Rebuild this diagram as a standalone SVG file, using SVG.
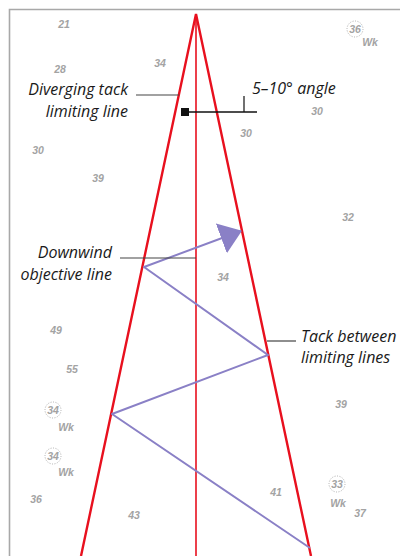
<svg xmlns="http://www.w3.org/2000/svg" width="400" height="556" viewBox="0 0 400 556">
<style>
.num{font-family:"Liberation Sans",Arial,sans-serif;font-style:italic;font-weight:bold;font-size:10.5px;fill:#a3a3a3;text-anchor:middle}
.lbl{font-family:"Open Sans","Noto Sans",sans-serif;font-style:italic;font-size:16px;fill:#1a1a1a}
.circ{fill:none;stroke:#9a9a9a;stroke-width:0.8;stroke-dasharray:1 1.5}
.red{stroke:#e8101e;fill:none}
.track{stroke:#8a80c6;stroke-width:2;fill:none;stroke-linejoin:round}
.lead{stroke:#444;stroke-width:1.2}
</style>
<defs>
<marker id="arrow" viewBox="0 0 22 32" refX="21" refY="16" markerWidth="22" markerHeight="32" markerUnits="userSpaceOnUse" orient="auto">
<path d="M0,0 L22,16 L0,32 Z" fill="#8a80c6"/>
</marker>
</defs>
<rect width="400" height="556" fill="#fff"/>
<path d="M9.5,556 V9.5 H400" fill="none" stroke="#a8a8a8" stroke-width="1.6"/>

<g id="depths">
<text class="num" x="64" y="28">21</text>
<text class="num" x="60" y="73">28</text>
<text class="num" x="160" y="67">34</text>
<text class="num" x="317" y="115">30</text>
<text class="num" x="246" y="137">30</text>
<text class="num" x="38" y="154">30</text>
<text class="num" x="98" y="182">39</text>
<text class="num" x="348" y="221">32</text>
<text class="num" x="223" y="281">34</text>
<text class="num" x="56" y="334">49</text>
<text class="num" x="72" y="373">55</text>
<text class="num" x="341" y="408">39</text>
<text class="num" x="36" y="503">36</text>
<text class="num" x="134" y="519">43</text>
<text class="num" x="276" y="496">41</text>
<text class="num" x="360" y="517">37</text>
</g>

<g id="wreck-36">
<circle class="circ" cx="355" cy="29" r="8"/>
<text class="num" x="355" y="33">36</text>
<text class="num" x="370" y="46">Wk</text>
</g>
<g id="wreck-34a">
<circle class="circ" cx="53" cy="410" r="8"/>
<text class="num" x="53" y="414">34</text>
<text class="num" x="66" y="431">Wk</text>
</g>
<g id="wreck-34b">
<circle class="circ" cx="53" cy="456" r="8"/>
<text class="num" x="53" y="460">34</text>
<text class="num" x="66" y="476">Wk</text>
</g>
<g id="wreck-33">
<circle class="circ" cx="337" cy="484" r="8"/>
<text class="num" x="337" y="488">33</text>
<text class="num" x="338" y="507">Wk</text>
</g>

<g id="limiting-lines">
<path class="red" stroke-width="2.4" d="M81,556 L196,14 L311,556"/>
</g>
<g id="objective-line">
<line class="red" stroke-width="1.6" x1="196" y1="14" x2="196" y2="556"/>
</g>

<g id="connectors">
<polyline class="track" points="310,548 112,414 268,355 144,267 241,231" marker-end="url(#arrow)"/>
<line class="lead" x1="136" y1="95" x2="179" y2="95"/>
<line class="lead" x1="120" y1="258" x2="196" y2="258"/>
<line class="lead" stroke="#111" x1="267" y1="341" x2="296" y2="341"/>
<line stroke="#111" stroke-width="1.6" x1="185" y1="112" x2="257" y2="112"/>
<line stroke="#111" stroke-width="1.2" x1="244" y1="96" x2="244" y2="112"/>
<rect x="181" y="108" width="8" height="8" fill="#111"/>
</g>

<g id="label-diverging">
<text class="lbl" x="128" y="95" text-anchor="end">Diverging tack</text>
<text class="lbl" x="128" y="117" text-anchor="end">limiting line</text>
</g>
<g id="label-angle">
<text class="lbl" x="252" y="94">5–10° angle</text>
</g>
<g id="label-downwind">
<text class="lbl" x="112" y="258" text-anchor="end">Downwind</text>
<text class="lbl" x="112" y="280" text-anchor="end">objective line</text>
</g>
<g id="label-tack">
<text class="lbl" x="301" y="342">Tack between</text>
<text class="lbl" x="301" y="363">limiting lines</text>
</g>
</svg>
